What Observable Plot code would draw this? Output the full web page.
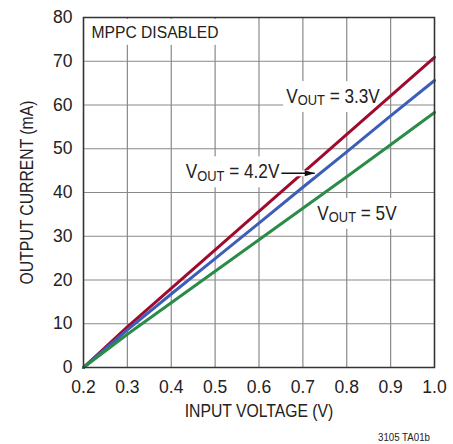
<!DOCTYPE html>
<html><head><meta charset="utf-8">
<script src="https://cdn.jsdelivr.net/npm/d3@7"></script>
<script src="https://cdn.jsdelivr.net/npm/@observablehq/plot@0.6"></script>
<style>
body{margin:0;background:#fff;}
#wrap{position:relative;width:453px;height:444px;overflow:hidden;}
#cap{position:absolute;right:23px;top:431px;font:11px "Liberation Sans",sans-serif;color:#222;transform:scaleX(0.88);transform-origin:right center;}
</style></head><body>
<div id="wrap"><div id="chart"></div><div id="cap">3105 TA01b</div></div>
<script>
// Data
const inputVoltage = [0.2, 0.3, 0.4, 0.5, 0.6, 0.7, 0.8, 0.9, 1.0];
const vout33 = [0, 9.3, 18.1, 26.9, 35.7, 44.5, 53.3, 62.1, 70.9];
const vout42 = [0, 8.6, 16.8, 24.9, 33.0, 41.2, 49.3, 57.5, 65.6];
const vout5  = [0, 7.6, 14.8, 22.0, 29.2, 36.4, 43.6, 50.9, 58.3];
const seriesNames = ["3.3V", "4.2V", "5V"];
const seriesColors = ["#9e0b2e", "#3d5eb8", "#2a8c47"];
const xTicks = [0.2, 0.3, 0.4, 0.5, 0.6, 0.7, 0.8, 0.9, 1.0];
const yTicks = [0, 10, 20, 30, 40, 50, 60, 70, 80];
const labelText = ["V_OUT = 3.3V", "V_OUT = 4.2V", "V_OUT = 5V"];
const labelX = [0.662, 0.433, 0.733];
const labelY = [60.5, 43.3, 33.8];
const arrowX1 = [0.651], arrowX2 = [0.727], arrowY = [44.4];
const note = ["MPPC DISABLED"];

const seriesValues = [vout33, vout42, vout5];
const rows = seriesNames.flatMap((s, i) => inputVoltage.map((v, j) => ({series: s, x: v, y: seriesValues[i][j]})));
const labels = labelText.map((t, i) => ({text: t, x: labelX[i], y: labelY[i]}));
const arrows = arrowX1.map((x1, i) => ({x1, x2: arrowX2[i], y: arrowY[i]}));

const FONT = '"Liberation Sans", Arial, sans-serif';

// filled arrowhead symbol, tip at the origin, pointing right
const arrowHead = {
  draw(context, size) {
    const r = Math.sqrt(size / Math.PI);
    const L = 2 * r, W = 1.2 * r;
    context.moveTo(0, 0);
    context.lineTo(-L, -W / 2);
    context.lineTo(-L, W / 2);
    context.closePath();
  }
};

const plot = Plot.plot({
  width: 453, height: 444,
  marginLeft: 83, marginRight: 19, marginTop: 17, marginBottom: 77,
  style: {fontFamily: FONT, fontSize: "17px", color: "#222", background: "#fff"},
  x: {domain: [0.2, 1.0]},
  y: {domain: [0, 80]},
  color: {domain: seriesNames, range: seriesColors},
  marks: [
    Plot.gridX(xTicks, {stroke: "#8a8a8a", strokeOpacity: 1, strokeWidth: 1.2}),
    Plot.gridY(yTicks, {stroke: "#8a8a8a", strokeOpacity: 1, strokeWidth: 1.2}),
    Plot.text(note, {frameAnchor: "top-left", dx: 8, dy: 8.5, lineAnchor: "top", textAnchor: "start", fontSize: 17.2, fill: "#222"}),
    Plot.text(labels, {x: "x", y: "y", text: "text", textAnchor: "start", lineAnchor: "bottom", fontSize: 20, fill: "#222"}),
    Plot.line(rows, {x: "x", y: "y", stroke: "series", strokeWidth: 3}),
    Plot.link(arrows, {x1: "x1", x2: "x2", y1: "y", y2: "y", stroke: "#fff", strokeWidth: 6}),
    Plot.link(arrows, {x1: "x1", x2: "x2", y1: "y", y2: "y", stroke: "#111", strokeWidth: 1.3}),
    Plot.dot(arrows, {x: "x2", y: "y", symbol: arrowHead, r: 5, fill: "#111", stroke: "none"}),
    Plot.frame({stroke: "#333", strokeWidth: 1.5}),
    Plot.axisX(xTicks, {tickSize: 0, tickPadding: 13.5, tickFormat: d3.format(".1f"), fontSize: 17.5, label: "INPUT VOLTAGE (V)", labelAnchor: "center", labelOffset: 49.5, labelArrow: "none"}),
    Plot.axisY(yTicks, {tickSize: 0, tickPadding: 11, fontSize: 17.5, label: "OUTPUT CURRENT (mA)", labelAnchor: "center", labelOffset: 63, labelArrow: "none"})
  ]
});

document.getElementById("chart").appendChild(plot);

const svg = d3.select(plot);
function condense(el, s) {
  const tr = el.getAttribute("transform") || "";
  el.setAttribute("transform", tr + ` scale(${s},1)`);
}
// subscripts
svg.selectAll("text").filter(function(){ return this.textContent.startsWith("V_OUT"); }).each(function(){
  const rest = this.textContent.replace("V_OUT", "");
  this.textContent = "";
  const t = d3.select(this);
  t.append("tspan").text("V");
  t.append("tspan").attr("font-size", "15px").attr("dy", "2.5").text("OUT");
  t.append("tspan").attr("dy", "-2.5").text(rest);
});
// condensed lettering like the original typeface
svg.selectAll("text").each(function(){
  const c = this.textContent;
  if (c.startsWith("VOUT")) condense(this, 0.86);
  else if (c === note[0]) condense(this, 0.91);
  else if (c === "INPUT VOLTAGE (V)" || c === "OUTPUT CURRENT (mA)") condense(this, 0.9);
});
// white boxes behind annotation texts
svg.selectAll("text").filter(function(){ const c = this.textContent; return c.startsWith("VOUT") || c === note[0]; }).each(function(){
  const b = this.getBBox();
  const pad = 3.5;
  const r = document.createElementNS("http://www.w3.org/2000/svg", "rect");
  r.setAttribute("x", b.x - pad); r.setAttribute("y", b.y - pad);
  r.setAttribute("width", b.width + 2 * pad); r.setAttribute("height", b.height + 2 * pad);
  r.setAttribute("fill", "#fff"); r.setAttribute("stroke", "none");
  const tr = this.getAttribute("transform"); if (tr) r.setAttribute("transform", tr);
  this.parentNode.insertBefore(r, this);
});
</script>
</body></html>
